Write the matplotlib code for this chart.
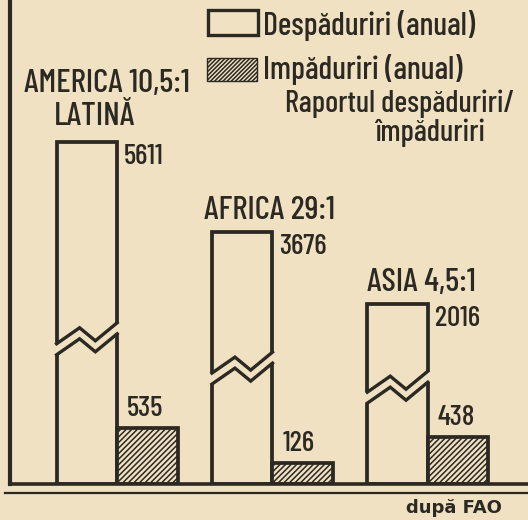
import numpy as np
import matplotlib
matplotlib.use("Agg")
import matplotlib.pyplot as plt
from matplotlib.patches import Rectangle, Polygon
from matplotlib.lines import Line2D
from matplotlib.transforms import IdentityTransform

# ---------------- data ----------------
regions = ["AMERICA LATINĂ", "AFRICA", "ASIA"]
ratios = ["10,5:1", "29:1", "4,5:1"]
deforestation = [5611, 3676, 2016]   # Despăduriri (anual)
reforestation = [535, 126, 438]      # Impăduriri (anual)
legend_labels = ["Despăduriri (anual)", "Impăduriri (anual)"]
ratio_note = ["Raportul despăduriri/", "împăduriri"]
source = "după FAO"

# pictorial (non-linear, broken-bar) value scale of the original drawing
scale_vals = [0, 126, 438, 535, 2016, 3676, 5611, 9000]
scale_px = [0, 21, 47, 56, 180, 252, 342, 484]

# ---------------- style ----------------
BG = "#f0e1c3"
INK = "#2c2822"
FONT = ["Barlow Condensed", "DejaVu Sans"]
plt.rcParams["font.family"] = FONT
plt.rcParams["font.weight"] = 500
plt.rcParams["hatch.color"] = INK
plt.rcParams["hatch.linewidth"] = 1.1

W_PX, H_PX = 528, 520
fig = plt.figure(figsize=(W_PX / 100, H_PX / 100), dpi=100, facecolor=BG)
ax = fig.add_axes([10 / W_PX, 36 / H_PX, 518 / W_PX, 484 / H_PX])
ax.set_facecolor(BG)


def fwd(v):
    return np.interp(v, scale_vals, scale_px)


def inv(p):
    return np.interp(p, scale_px, scale_vals)


ax.set_yscale("function", functions=(fwd, inv))
ax.set_ylim(0, 9000)
ax.set_xlim(-0.69, 2.645)
ax.set_autoscale_on(False)

w = 0.39
x = np.arange(len(regions))
ax.bar(x - w / 2, deforestation, width=w, facecolor=BG, edgecolor=INK,
       linewidth=2.7, zorder=2)
ax.bar(x + w / 2, reforestation, width=w, facecolor=BG, edgecolor=INK,
       linewidth=2.7, hatch="//////", zorder=2)

for s in ["top", "right"]:
    ax.spines[s].set_visible(False)
ax.spines["left"].set_linewidth(3.0)
ax.spines["bottom"].set_linewidth(2.6)
for s in ["left", "bottom"]:
    ax.spines[s].set_color(INK)
ax.set_xticks([])
ax.set_yticks([])
ax.minorticks_off()

NUM_FS = 21
LAB_FS = 24
LEG_FS = 23
NOTE_FS = 22

# value labels
for i in range(len(regions)):
    ax.annotate(f"{deforestation[i]}", xy=(x[i], deforestation[i]),
                xytext=(7, -2), textcoords="offset pixels", ha="left",
                va="top", fontsize=NUM_FS, color=INK)
    ax.annotate(f"{reforestation[i]}", xy=(x[i], reforestation[i]),
                xytext=(10, 12), textcoords="offset pixels", ha="left",
                va="baseline", fontsize=NUM_FS, color=INK)

# region labels with ratio
label_dx = [-33, -8, 0]
for i, name in enumerate(regions):
    words = name.split()
    left = x[i] - w
    if len(words) > 1:
        ax.annotate(f"{words[0]} {ratios[i]}", xy=(left, deforestation[i]),
                    xytext=(label_dx[i], 50), textcoords="offset pixels",
                    ha="left", va="baseline", fontsize=LAB_FS, color=INK)
        ax.annotate(" ".join(words[1:]), xy=(left, deforestation[i]),
                    xytext=(-3, 17), textcoords="offset pixels",
                    ha="left", va="baseline", fontsize=LAB_FS, color=INK)
    else:
        ax.annotate(f"{name} {ratios[i]}", xy=(left, deforestation[i]),
                    xytext=(label_dx[i], 13), textcoords="offset pixels",
                    ha="left", va="baseline", fontsize=LAB_FS, color=INK)

# zig-zag breaks on the deforestation bars
break_frac = [0.41, 0.44, 0.51]
for i in range(len(regions)):
    xl, y0 = ax.transData.transform((x[i] - w, 0))
    xr, yt = ax.transData.transform((x[i], deforestation[i]))
    yb = y0 + break_frac[i] * (yt - y0)
    bw = xr - xl
    up = [(xl, yb), (xl + 0.38 * bw, yb + 16), (xl + 0.64 * bw, yb + 3),
          (xr, yb + 21)]
    gap = 11
    lo = [(px, py - gap) for px, py in up]
    fill = ([(xl - 4, yb)] + up + [(xr + 4, yb + 21), (xr + 4, yb + 21 - gap)]
            + lo[::-1] + [(xl - 4, yb - gap)])
    fig.add_artist(Polygon(fill, closed=True, facecolor=BG, edgecolor="none",
                           transform=IdentityTransform(), zorder=3))
    for line in (up, lo):
        xs, ys = zip(*line)
        fig.add_artist(Line2D(xs, ys, color=INK, linewidth=2.4,
                              solid_joinstyle="miter",
                              transform=IdentityTransform(), zorder=4))


# ---------------- legend & notes (figure pixels) ----------------
def fx(px):
    return px / W_PX


def fy(py):
    return 1 - py / H_PX


fig.add_artist(Rectangle((fx(208), fy(35)), 50 / W_PX, 25 / H_PX,
                         transform=fig.transFigure, facecolor=BG,
                         edgecolor=INK, linewidth=2.4, zorder=3))
fig.add_artist(Rectangle((fx(207), fy(81)), 50 / W_PX, 23 / H_PX,
                         transform=fig.transFigure, facecolor=BG,
                         edgecolor=INK, linewidth=1.0, hatch="////////",
                         zorder=3))
fig.text(fx(263), fy(35), legend_labels[0], ha="left", va="baseline",
         fontsize=LEG_FS, color=INK)
fig.text(fx(263), fy(79), legend_labels[1], ha="left", va="baseline",
         fontsize=LEG_FS, color=INK)
fig.text(fx(285), fy(112), ratio_note[0], ha="left", va="baseline",
         fontsize=NOTE_FS, color=INK)
fig.text(fx(375), fy(141), ratio_note[1], ha="left", va="baseline",
         fontsize=NOTE_FS, color=INK)

fig.add_artist(Line2D([fx(5), 1.0], [fy(493), fy(493)], color=INK,
                      linewidth=1.6, transform=fig.transFigure))
fig.text(fx(502), fy(513), source, ha="right", va="baseline", fontsize=13,
         fontweight="bold", color=INK, family=["DejaVu Sans"])

fig.savefig("out.png", dpi=100, facecolor=BG)
